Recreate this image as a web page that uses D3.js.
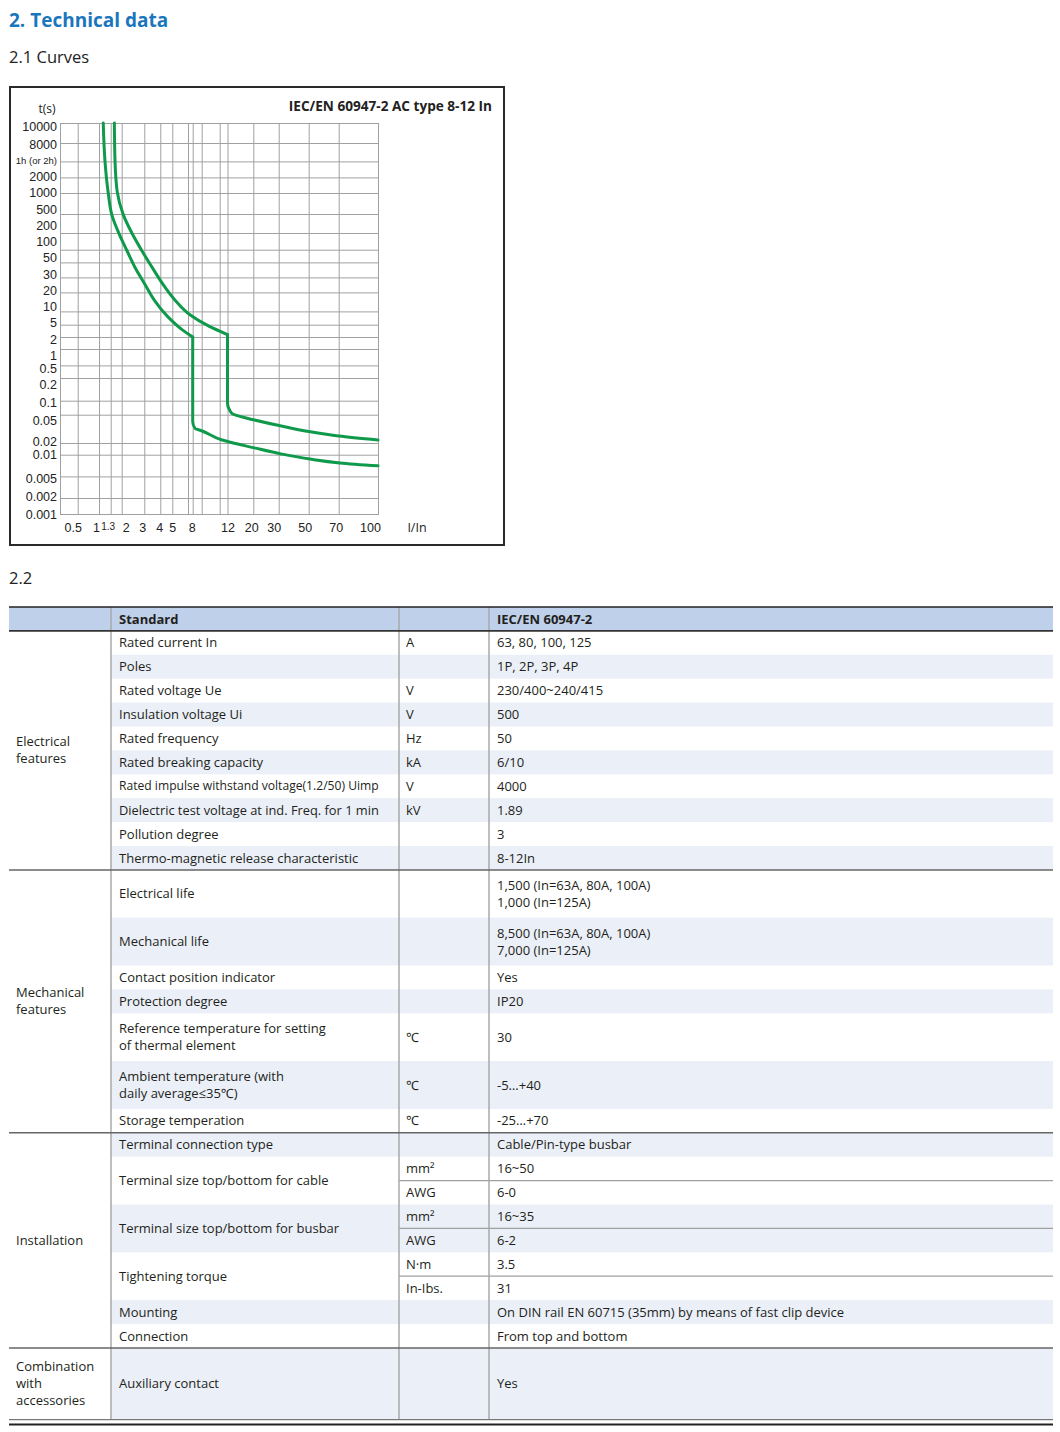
<!DOCTYPE html>
<html>
<head>
<meta charset="utf-8">
<script src="https://cdn.jsdelivr.net/npm/d3@7"></script>
<style>
  body { margin: 0; background: #fff; }
  svg { display: block; font-family: "Open Sans", "Noto Sans", sans-serif; }
  .h1 { font-size: 19px; font-weight: 700; fill: #1a76bd; }
  .h2 { font-size: 16.5px; fill: #222; }
  .tick text { font-size: 12.5px; fill: #222; }
  .grid line { stroke: #a0a0a0; stroke-width: 1; }
  .cell { font-size: 13px; fill: #231f20; }
</style>
</head>
<body>
<svg id="page"></svg>
<script>
// ---- curve chart data ----
const xTicks = [0.5, 1, 1.3, 2, 3, 4, 5, 8, 12, 20, 30, 50, 70, 100];
const xGrid = [0.5, 1, 1.3, 2, 3, 4, 5, 7, 8, 9, 11, 12, 20, 30, 50, 70, 100];
const yTicks = [10000, 8000, 3600, 2000, 1000, 500, 200, 100, 50, 30, 20, 10, 5, 2, 1,
  0.5, 0.2, 0.1, 0.05, 0.02, 0.01, 0.005, 0.002, 0.001];

// [I/In, t(s)]
const thermal8 = [[1.10, 10000], [1.144, 3600], [1.23, 1000], [1.36, 480], [1.8, 195], [2.19, 97],
  [2.54, 42], [3.03, 25], [3.6, 15], [4.57, 7.7], [6.2, 3.4], [8, 2]];
const magnetic8 = [[8, 2], [8, 0.04], [8.25, 0.032], [8.9, 0.030], [11.3, 0.022], [20.3, 0.015],
  [30.7, 0.0106], [50.7, 0.0087], [70.8, 0.0077], [100, 0.007]];
const thermal12 = [[1.5, 10000], [1.54, 3600], [1.68, 1050], [2.06, 480], [2.4, 200], [2.82, 103],
  [3.38, 45], [4.28, 24], [5.41, 14.5], [7.4, 8.4], [9.8, 4.4], [12, 2.4]];
const magnetic12 = [[12, 2.4], [12, 0.09], [13, 0.054], [20, 0.0425], [30.7, 0.035], [50, 0.029],
  [70, 0.025], [100, 0.022]];

// ---- table data ----
const headerRow = ["Standard", "", "IEC/EN 60947-2"];
const groupLabels = ["Electrical\nfeatures", "Mechanical\nfeatures", "Installation", "Combination\nwith\naccessories"];
const electricalRows = [
  ["Rated current In", "A", "63, 80, 100, 125"],
  ["Poles", "", "1P, 2P, 3P, 4P"],
  ["Rated voltage Ue", "V", "230/400~240/415"],
  ["Insulation voltage Ui", "V", "500"],
  ["Rated frequency", "Hz", "50"],
  ["Rated breaking capacity", "kA", "6/10"],
  ["Rated impulse withstand voltage(1.2/50) Uimp", "V", "4000"],
  ["Dielectric test voltage at ind. Freq. for 1 min", "kV", "1.89"],
  ["Pollution degree", "", "3"],
  ["Thermo-magnetic release characteristic", "", "8-12In"]
];
const mechanicalRows = [
  ["Electrical life", "", "1,500 (In=63A, 80A, 100A)\n1,000 (In=125A)"],
  ["Mechanical life", "", "8,500 (In=63A, 80A, 100A)\n7,000 (In=125A)"],
  ["Contact position indicator", "", "Yes"],
  ["Protection degree", "", "IP20"],
  ["Reference temperature for setting\nof thermal element", "℃", "30"],
  ["Ambient temperature (with\ndaily average≤35℃)", "℃", "-5…+40"],
  ["Storage temperation", "℃", "-25…+70"]
];
const installationRows = [
  ["Terminal connection type", "", "Cable/Pin-type busbar"],
  ["Terminal size top/bottom for cable", [["mm²", "16~50"], ["AWG", "6-0"]]],
  ["Terminal size top/bottom for busbar", [["mm²", "16~35"], ["AWG", "6-2"]]],
  ["Tightening torque", [["N·m", "3.5"], ["In-Ibs.", "31"]]],
  ["Mounting", "", "On DIN rail EN 60715 (35mm) by means of fast clip device"],
  ["Connection", "", "From top and bottom"]
];
const accessoryRows = [
  ["Auxiliary contact", "", "Yes"]
];

const svg = d3.select("#page").attr("width", 1060).attr("height", 1432);

svg.append("text").attr("class", "h1").attr("x", 9).attr("y", 27).text("2. Technical data");
svg.append("text").attr("class", "h2").attr("x", 9).attr("y", 63).text("2.1 Curves");
svg.append("text").attr("class", "h2").attr("x", 9).attr("y", 584).text("2.2");

// ---- chart ----
svg.append("rect")
  .attr("x", 10).attr("y", 87).attr("width", 494).attr("height", 458)
  .attr("fill", "none").attr("stroke", "#2a2a2a").attr("stroke-width", 2);

const plot = { left: 60, top: 123, width: 318, height: 391 };

// the printed grid is hand spaced, so the scales are piecewise log along measured stops
const xStops = [0, 17.7, 39, 50.7, 61.7, 84.3, 100.3, 112.3, 128, 132.7, 141.7, 159.7, 167.5, 193.3, 218.7, 248.7, 278.7, 318];
const yStops = [0, 20, 38.4, 54.4, 70, 91, 110, 126.7, 139.4, 154.4, 169.4, 188.4, 201.7, 214, 226,
  242.4, 255, 277.7, 291.7, 320, 331.7, 353.4, 375, 391];
// labels in the print do not sit exactly on their grid lines
const xLabelNudge = [-5, -3, -3, 4, -2, -1, 0, -1, 0, -2, -5, -4, -3, -8];
const yLabelNudge = [3, 1, -1, -1, -1, -5, -8, -8, -5, -3, -2, -5, -2, 2, 6, 3, 6, 2, 6, -2, 0, 2, -2, 0];

const x = d3.scaleLog().domain([0.3, ...xGrid]).range(xStops.map(d => plot.left + d));
const y = d3.scaleLog().domain(yTicks).range(yStops.map(d => plot.top + d));

const chart = svg.append("g");

chart.append("g")
  .attr("class", "grid")
  .attr("transform", `translate(0,${plot.top + plot.height})`)
  .call(d3.axisBottom(x).tickValues(xGrid).tickSize(-plot.height).tickFormat(""))
  .call(g => g.select(".domain").remove());

chart.append("g")
  .attr("class", "grid")
  .attr("transform", `translate(${plot.left},0)`)
  .call(d3.axisLeft(y).tickValues(yTicks).tickSize(-plot.width).tickFormat(""))
  .call(g => g.select(".domain").remove());

chart.append("rect")
  .attr("x", plot.left + 0.5).attr("y", plot.top + 0.5)
  .attr("width", plot.width).attr("height", plot.height)
  .attr("fill", "none").attr("stroke", "#a0a0a0");

chart.append("g")
  .attr("transform", `translate(${plot.left},0)`)
  .call(d3.axisLeft(y).tickValues(yTicks).tickSize(0).tickPadding(3)
    .tickFormat(d => d === 3600 ? "1h (or 2h)" : String(d)))
  .call(g => g.select(".domain").remove())
  .call(g => g.selectAll("text").attr("font-family", null)
    .attr("y", (d, i) => yLabelNudge[i])
    .style("font-size", d => d === 3600 ? "9.5px" : null));

chart.append("g")
  .attr("transform", `translate(0,${plot.top + plot.height})`)
  .call(d3.axisBottom(x).tickValues(xTicks).tickSize(0).tickPadding(9).tickFormat(d => String(d)))
  .call(g => g.select(".domain").remove())
  .call(g => g.selectAll("text").attr("font-family", null).attr("dx", (d, i) => xLabelNudge[i])
    .style("font-size", d => d === 1.3 ? "10px" : null));

chart.append("text").attr("x", 47).attr("y", 113).attr("text-anchor", "middle")
  .style("font-size", "12px").attr("fill", "#222").text("t(s)");
chart.append("text").attr("x", 417).attr("y", 532).attr("text-anchor", "middle")
  .style("font-size", "12.5px").attr("fill", "#222").text("I/In");
chart.append("text").attr("x", 492).attr("y", 111).attr("text-anchor", "end")
  .style("font-size", "13.6px").style("font-weight", 700).attr("fill", "#222")
  .text("IEC/EN 60947-2 AC type 8-12 In");

const tripLine = d3.line()
  .x(d => x(d[0]))
  .y(d => y(d[1]))
  .curve(d3.curveMonotoneY);

chart.selectAll("path.trip")
  .data([thermal8, magnetic8, thermal12, magnetic12])
  .join("path")
  .attr("class", "trip")
  .attr("d", tripLine)
  .attr("fill", "none")
  .attr("stroke", "#0f9a4b")
  .attr("stroke-width", 3)
  .attr("stroke-linejoin", "round")
  .attr("stroke-linecap", "round");

// ---- table ----
const colX = [9, 111, 399, 489, 1053];
const textX = [16, 119, 406, 497];
const rowUnit = 23.9;
const lineGap = 17;
const tableTop = 607;

const groups = [electricalRows, mechanicalRows, installationRows, accessoryRows]
  .map((rows, i) => ({ label: groupLabels[i].split("\n"), rows }));

let cursor = tableTop + rowUnit;
let idx = 0;
const rowsLaid = [];
groups.forEach(g => {
  g.y0 = cursor;
  g.rows.forEach(r => {
    const name = r[0].split("\n");
    const subs = Array.isArray(r[1]) ? r[1] : null;
    const value = subs ? [] : r[2].split("\n");
    let units = Math.max(name.length, value.length, subs ? subs.length : 1);
    if (g.rows.length === 1) units = Math.max(units, g.label.length);
    rowsLaid.push({ y0: cursor, h: units * rowUnit, name, unit: subs ? null : r[1], value, subs, zebra: idx % 2 === 1 });
    cursor += units * rowUnit;
    idx++;
  });
  g.y1 = cursor;
});
const tableBottom = cursor;

const table = svg.append("g");

// backgrounds
table.append("rect")
  .attr("x", colX[0]).attr("y", tableTop)
  .attr("width", colX[4] - colX[0]).attr("height", rowUnit)
  .attr("fill", "#bfd0ea");

table.selectAll("rect.zebra")
  .data(rowsLaid.filter(r => r.zebra))
  .join("rect")
  .attr("class", "zebra")
  .attr("x", colX[1]).attr("y", d => d.y0)
  .attr("width", colX[4] - colX[1]).attr("height", d => d.h)
  .attr("fill", "#ebeff8");

function multiline(sel, lines, xPos, cy) {
  const t = sel.append("text").attr("class", "cell").attr("x", xPos);
  lines.forEach((s, i) => {
    t.append("tspan")
      .attr("x", xPos)
      .attr("y", cy + (i - (lines.length - 1) / 2) * lineGap)
      .attr("dy", "0.35em")
      .text(s);
  });
  return t;
}

// header
const headCy = tableTop + rowUnit / 2;
headerRow.forEach((s, i) => {
  if (s) multiline(table, [s], textX[i + 1], headCy).style("font-weight", 700);
});

// group labels
groups.forEach(g => multiline(table, g.label, textX[0], (g.y0 + g.y1) / 2));

// rows
rowsLaid.forEach(r => {
  const cy = r.y0 + r.h / 2;
  const nameText = multiline(table, r.name, textX[1], cy);
  const len = nameText.node().getComputedTextLength();
  if (r.name.length === 1 && len > 260) nameText.style("font-size", (13 * 260 / len) + "px");
  if (r.subs) {
    r.subs.forEach((s, i) => {
      const sc = r.y0 + i * rowUnit + rowUnit / 2;
      multiline(table, [s[0]], textX[2], sc);
      multiline(table, [s[1]], textX[3], sc);
      if (i > 0) {
        table.append("line")
          .attr("x1", colX[2]).attr("x2", colX[4])
          .attr("y1", r.y0 + i * rowUnit).attr("y2", r.y0 + i * rowUnit)
          .attr("stroke", "#a0a0a0").attr("stroke-width", 1.2);
      }
    });
  } else {
    if (r.unit) multiline(table, [r.unit], textX[2], cy);
    multiline(table, r.value, textX[3], cy);
  }
});

// rules
table.selectAll("line.col")
  .data(colX.slice(1, 4))
  .join("line")
  .attr("class", "col")
  .attr("x1", d => d).attr("x2", d => d)
  .attr("y1", tableTop).attr("y2", tableBottom)
  .attr("stroke", "#a8a8a8").attr("stroke-width", 1.5);

const hRules = [
  { y: tableTop, c: "#222", w: 1.6 },
  { y: tableTop + rowUnit, c: "#333", w: 1.6 },
  ...groups.slice(0, -1).map(g => ({ y: g.y1, c: "#666", w: 1.5 })),
  { y: tableBottom, c: "#777", w: 1.2 },
  { y: tableBottom + 5, c: "#222", w: 2 }
];
table.selectAll("line.row")
  .data(hRules)
  .join("line")
  .attr("class", "row")
  .attr("x1", colX[0]).attr("x2", colX[4])
  .attr("y1", d => d.y).attr("y2", d => d.y)
  .attr("stroke", d => d.c).attr("stroke-width", d => d.w);
</script>
</body>
</html>
